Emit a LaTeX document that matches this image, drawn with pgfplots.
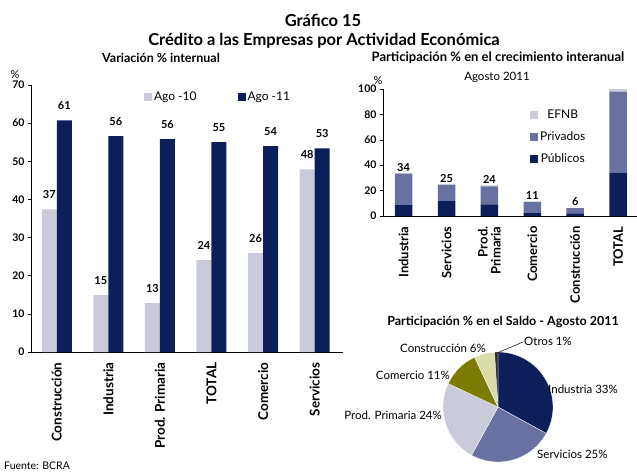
\documentclass[border=0pt]{standalone}
\usepackage{fontspec}
\setmainfont{Lato}
\usepackage{pgfplots}
\usepackage{pgfplotstable}
\pgfplotsset{compat=1.18}
\definecolor{navy}{HTML}{0C1F5B}
\definecolor{lav}{HTML}{C9CBDB}
\definecolor{slate}{HTML}{6971A0}
\definecolor{olive}{HTML}{7B7B05}
\definecolor{pale}{HTML}{DADCA9}
\definecolor{otros}{HTML}{303030}
\newcommand{\fs}[1]{\fontsize{#1}{#1}\selectfont}
\newcommand{\slice}[3]{\filldraw[fill=#3, draw=white, line width=0.3pt] (axis cs:0,0) -- ++({90-3.6*#1}:55pt) arc[start angle={90-3.6*#1}, delta angle={-3.6*#2}, radius=55pt] -- cycle;}

\pgfplotstableread{
x a10 a11 l10 l11
0 37.4 60.7 37 61
1 14.9 56.6 15 56
2 12.8 55.8 13 56
3 24.1 55.0 24 55
4 25.9 54.0 26 54
5 47.9 53.4 48 53
}\leftdata

\pgfplotstableread{
x pub priv efnb lab
0 8.6 24.6 0.8 34
1 11.8 12.6 0.8 25
2 9.2 14.2 0.8 24
3 2.2 8.7 0.6 11
4 2.1 4.1 0.1 6
5 33.8 64.2 2.0 {}
}\rightdata

\begin{document}
\begin{tikzpicture}
\useasboundingbox (0pt,0pt) rectangle (637pt,-473pt);
\node[font=\bfseries\fs{16.5}] at (323pt,-20pt) {Gráfico 15};
\node[font=\bfseries\fs{16.5}] at (324pt,-41pt) {Crédito a las Empresas por Actividad Económica};
\node[font=\bfseries\fs{12.5}] at (161pt,-58pt) {Variación \% internual};
\node[font=\bfseries\fs{13}] at (498pt,-58pt) {Participación \% en el crecimiento interanual};
\node[font=\fs{11}] at (15pt,-75pt) {\%};
\node[font=\fs{11}] at (378pt,-81pt) {\%};
\node[font=\fs{11.5}] at (497pt,-77pt) {Agosto 2011};
\node[font=\fs{10.5}, anchor=west, inner sep=0pt] at (4pt,-466pt) {Fuente: BCRA};

\begin{axis}[
  at={(31pt,-352pt)}, anchor=south west, scale only axis,
  width=312pt, height=267pt,
  xmin=-0.5, xmax=5.55, ymin=0, ymax=70,
  ybar=0pt, bar width=15pt,
  axis x line*=bottom, axis y line*=left,
  axis line style={black, line width=0.6pt},
  ytick={0,10,...,70},
  xtick={0,...,5},
  xticklabels={Construcción,Industria,Prod. Primaria,TOTAL,Comercio,Servicios},
  x tick style={draw=none},
  y tick style={black, line width=0.5pt},
  tick align=outside, major tick length=3pt,
  /pgf/number format/assume math mode=true,
  yticklabel style={font=\bfseries\fs{10.5}},
  xticklabel shift=4pt,
  xticklabel style={font=\bfseries\fs{13.5}, rotate=90, anchor=east},
  nodes near coords, point meta=explicit symbolic,
  every node near coord/.append style={font=\bfseries\fs{11}, yshift=7pt, black},
  legend style={at={(0.352,0.99)}, anchor=north west, draw=none, fill=none,
    font=\fs{12}, legend columns=2,
    /tikz/every even column/.append style={column sep=39pt}},
  legend image code/.code={\fill[#1] (0pt,-4pt) rectangle (8pt,4pt);},
  clip=false,
]
\addplot[fill=lav, draw=none] table[x=x,y=a10,meta=l10]{\leftdata};
\addplot[fill=navy, draw=none] table[x=x,y=a11,meta=l11]{\leftdata};
\legend{Ago -10, Ago -11}
\end{axis}

\begin{axis}[
  at={(383pt,-216pt)}, anchor=south west, scale only axis,
  width=254pt, height=127pt,
  xmin=-0.48, xmax=5.44, ymin=0, ymax=100,
  ybar stacked, bar width=17.5pt,
  axis x line*=bottom, axis y line*=left,
  axis line style={black, line width=0.6pt},
  ytick={0,20,...,100},
  xtick={0,...,5},
  xticklabels={Industria,Servicios,{Prod.\\Primaria},Comercio,Construcción,TOTAL},
  x tick style={draw=none},
  y tick style={black, line width=0.5pt},
  tick align=outside, major tick length=3pt,
  /pgf/number format/assume math mode=true,
  yticklabel style={font=\bfseries\fs{10.5}},
  xticklabel shift=4pt,
  xticklabel style={font=\bfseries\fs{13}, rotate=90, anchor=east, align=right},
  reverse legend,
  legend style={at={(0.567,0.87)}, anchor=north west, draw=none, fill=none,
    font=\fs{12}, row sep=8pt},
  legend image code/.code={\fill[#1] (0pt,-4pt) rectangle (8pt,4pt);},
  clip=false,
]
\addplot[fill=navy, draw=none] table[x=x,y=pub]{\rightdata};
\addplot[fill=slate, draw=none] table[x=x,y=priv]{\rightdata};
\addplot[fill=lav, draw=none, nodes near coords, point meta=explicit symbolic,
  every node near coord/.append style={font=\bfseries\fs{11}, yshift=6pt, black}]
  table[x=x,y=efnb,meta=lab]{\rightdata};
\legend{Públicos, Privados, EFNB}
\end{axis}

\begin{axis}[
  at={(498pt,-407pt)}, anchor=center, scale only axis,
  width=110pt, height=110pt,
  xmin=-1, xmax=1, ymin=-1, ymax=1, hide axis, clip=false,
]
\slice{0}{33}{navy}
\slice{33}{25}{slate}
\slice{58}{24}{lav}
\slice{82}{11}{olive}
\slice{93}{6}{pale}
\slice{99}{1}{otros}
\end{axis}
\node[font=\bfseries\fs{12.5}] at (503pt,-322pt) {Participación \% en el Saldo - Agosto 2011};
\draw[black, line width=0.5pt] (497pt,-353pt) -- (523pt,-342pt);
\node[font=\fs{11.5}, anchor=west, inner sep=0pt] at (524pt,-341pt) {Otros 1\%};
\node[font=\fs{11.5}, anchor=east, inner sep=0pt] at (486pt,-348pt) {Construcción 6\%};
\node[font=\fs{11.5}, anchor=east, inner sep=0pt] at (450pt,-375pt) {Comercio 11\%};
\node[font=\fs{11.5}, anchor=west, inner sep=0pt] at (548pt,-389pt) {Industria 33\%};
\node[font=\fs{11.5}, anchor=east, inner sep=0pt] at (442pt,-415pt) {Prod. Primaria 24\%};
\node[font=\fs{11.5}, anchor=west, inner sep=0pt] at (537pt,-454pt) {Servicios 25\%};
\end{tikzpicture}
\end{document}
